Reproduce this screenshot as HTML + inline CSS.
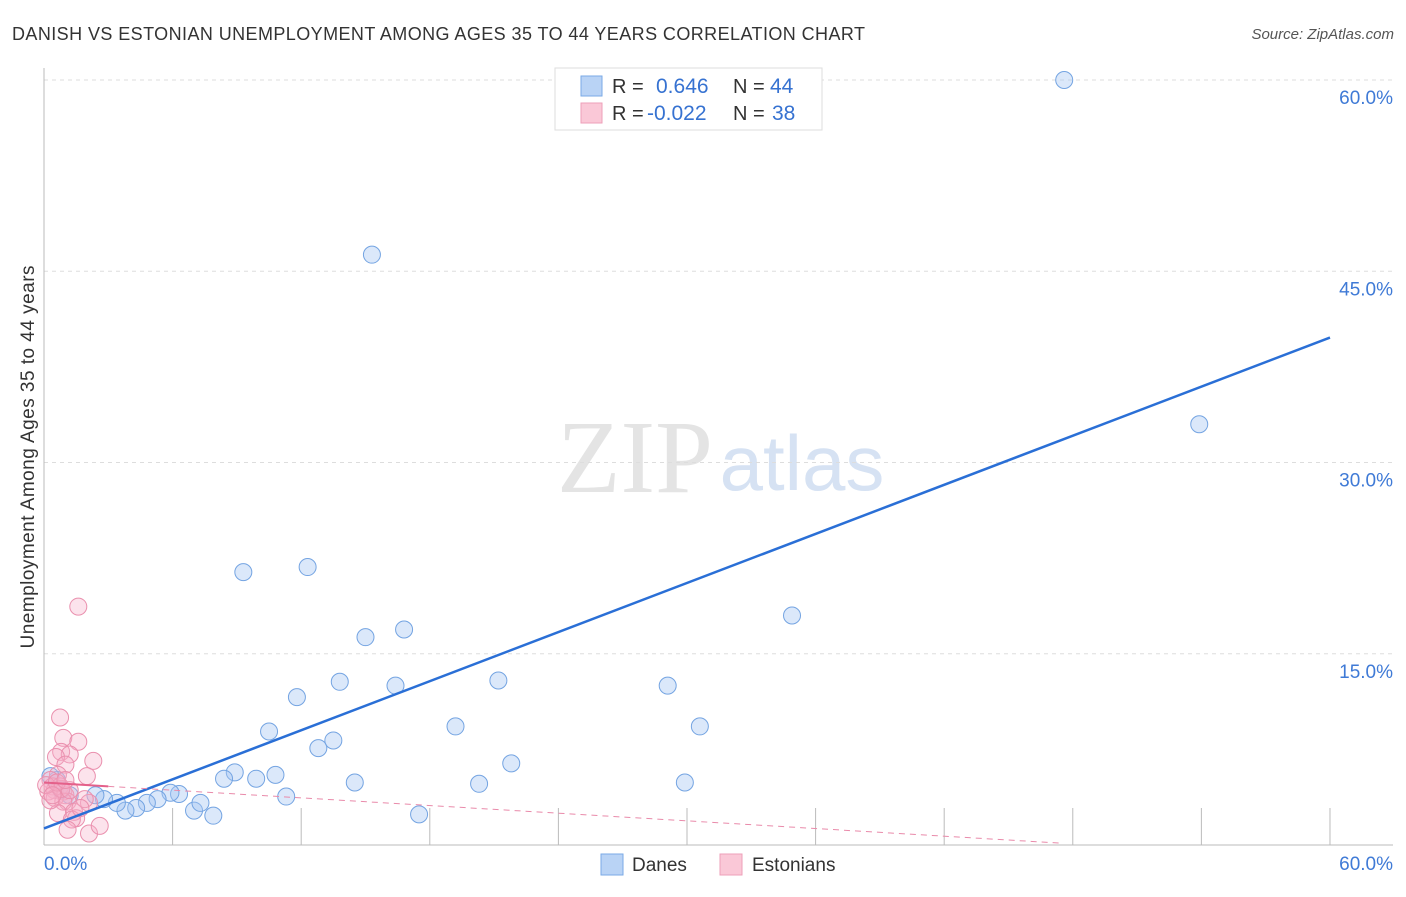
<!DOCTYPE html>
<html><head><meta charset="utf-8"><style>
body{margin:0;background:#fff;font-family:"Liberation Sans",sans-serif}
</style></head><body>
<svg id="chart" width="1406" height="892" font-family="Liberation Sans, sans-serif">
<text x="12" y="40" font-size="18" fill="#333" textLength="853">DANISH VS ESTONIAN UNEMPLOYMENT AMONG AGES 35 TO 44 YEARS CORRELATION CHART</text>
<text x="1394" y="39" font-size="15" fill="#555" text-anchor="end" font-style="italic">Source: ZipAtlas.com</text>
<text x="635" y="492" font-size="104" fill="#e4e4e4" font-family="Liberation Serif, serif" text-anchor="middle">ZIP</text>
<text x="802" y="490" font-size="78" fill="#d6e2f3" text-anchor="middle">atlas</text>
<text transform="translate(34,457) rotate(-90)" font-size="19" fill="#333" text-anchor="middle" textLength="383">Unemployment Among Ages 35 to 44 years</text>
<g id="grid"></g><g id="axes"></g><g id="pts"></g><g id="lines"></g>
<g>
<rect x="555" y="68" width="267" height="62" fill="#fff" stroke="#ddd"/>
<rect x="581" y="76" width="21" height="20" fill="#b9d3f5" stroke="#7aaae6"/>
<rect x="581" y="103" width="21" height="20" fill="#fac8d7" stroke="#ee9fb8"/>
<text x="612" y="93" font-size="20" fill="#333">R =</text><text x="656" y="93" font-size="21" fill="#3672d1">0.646</text>
<text x="733" y="93" font-size="20" fill="#333">N =</text><text x="770" y="93" font-size="21" fill="#3672d1">44</text>
<text x="612" y="120" font-size="20" fill="#333">R =</text><text x="647" y="120" font-size="21" fill="#3672d1">-0.022</text>
<text x="733" y="120" font-size="20" fill="#333">N =</text><text x="772" y="120" font-size="21" fill="#3672d1">38</text>
</g>
<g>
<rect x="601" y="854" width="22" height="21" fill="#b9d3f5" stroke="#7aaae6"/>
<text x="632" y="871" font-size="19" fill="#333">Danes</text>
<rect x="720" y="854" width="22" height="21" fill="#fac8d7" stroke="#ee9fb8"/>
<text x="752" y="871" font-size="19" fill="#333">Estonians</text>
</g>
</svg>
<script>
const daneX=[47.6,15.3,53.9,9.3,12.3,34.9,15.0,16.8,11.8,13.8,16.4,21.2,29.1,10.5,12.8,13.5,19.2,30.6,21.8,8.9,8.4,9.9,10.8,14.5,20.3,29.9,11.3,17.5,7.9,7.0,7.3,6.3,5.9,5.3,4.8,4.3,3.8,3.4,2.8,2.4,1.2,0.6,0.3,0.8];
const daneY=[60.0,46.3,33.0,21.4,21.8,18.0,16.3,16.9,11.6,12.8,12.5,12.9,12.5,8.9,7.6,8.2,9.3,9.3,6.4,5.7,5.2,5.2,5.5,4.9,4.8,4.9,3.8,2.4,2.3,2.7,3.3,4.0,4.1,3.6,3.3,2.9,2.7,3.3,3.6,3.9,3.9,5.1,5.4,4.3];
const estX=[1.6,0.75,0.9,1.6,0.8,1.2,0.56,2.3,1.0,2.0,0.65,0.3,0.4,0.5,0.75,0.9,1.0,0.2,0.5,1.1,0.9,2.1,1.9,0.65,1.4,1.5,1.3,1.1,2.1,2.6,0.3,0.8,1.2,0.1,0.6,1.0,0.4,1.7];
const estY=[18.7,10.0,8.4,8.1,7.3,7.1,6.9,6.6,6.3,5.4,5.5,5.1,4.6,4.3,4.6,4.2,3.9,4.2,3.7,3.4,3.4,3.3,3.6,2.5,2.6,2.1,2.0,1.2,0.9,1.5,3.5,4.4,4.3,4.7,4.9,5.1,3.9,2.9];
const yTicks=[15,30,45,60];
const yTickLabels=["15.0%","30.0%","45.0%","60.0%"];
const daneTrend=[1.3,39.8]; // y at x=0 and x=60
const estTrend=[4.9,0.15,47.4]; // y at 0, y at end, end x
const NS="http://www.w3.org/2000/svg";
const sx=v=>44+v*21.433, sy=v=>845-v*12.75;
function mk(tag,at,parent){const e=document.createElementNS(NS,tag);for(const k in at)e.setAttribute(k,at[k]);document.getElementById(parent).appendChild(e);return e;}
yTicks.forEach((t,i)=>{
 const g=mk('line',{x1:44,x2:1393,y1:sy(t),y2:sy(t),stroke:'#ddd','stroke-dasharray':'4,4'},'grid');
 
 
 const tx=mk('text',{x:1393,y:sy(t)+24,'font-size':19,fill:'#3f7ad6','text-anchor':'end'},'grid');
 tx.textContent=yTickLabels[i];
 
 
});
mk('line',{x1:44,x2:44,y1:68,y2:845,stroke:'#bbb'},'axes');
mk('line',{x1:44,x2:1393,y1:845,y2:845,stroke:'#bbb'},'axes');
for(let i=1;i<=10;i++){const l=mk('line',{x1:sx(i*6),x2:sx(i*6),y1:808,y2:845,stroke:'#bbb'},'axes');
 
 }
const x0=mk('text',{x:44,y:870,'font-size':19,fill:'#3f7ad6'},'axes');x0.textContent='0.0%';


const x1=mk('text',{x:1393,y:870,'font-size':19,fill:'#3f7ad6','text-anchor':'end'},'axes');x1.textContent='60.0%';


daneX.forEach((x,i)=>{const c=mk('circle',{cx:sx(x),cy:sy(daneY[i]),r:8.5,fill:'rgba(165,198,242,0.4)',stroke:'#74a4e2','stroke-width':1},'pts');
 
 });
estX.forEach((x,i)=>{const c=mk('circle',{cx:sx(x),cy:sy(estY[i]),r:8.5,fill:'rgba(246,176,200,0.35)',stroke:'#ea90ae','stroke-width':1},'pts');
 
 });
const dl=mk('line',{x1:sx(0),y1:sy(daneTrend[0]),x2:sx(60),y2:sy(daneTrend[1]),stroke:'#2a6fd6','stroke-width':2.5},'lines');


const ey=x=>estTrend[0]+(estTrend[1]-estTrend[0])*x/estTrend[2];
const es=mk('line',{x1:sx(0),y1:sy(ey(0)),x2:sx(3),y2:sy(ey(3)),stroke:'#e4608a','stroke-width':2},'lines');


const ed=mk('line',{x1:sx(3),y1:sy(ey(3)),x2:sx(estTrend[2]),y2:sy(estTrend[1]),stroke:'#e98aaa','stroke-width':1,'stroke-dasharray':'6,5'},'lines');


</script>
</body></html>
